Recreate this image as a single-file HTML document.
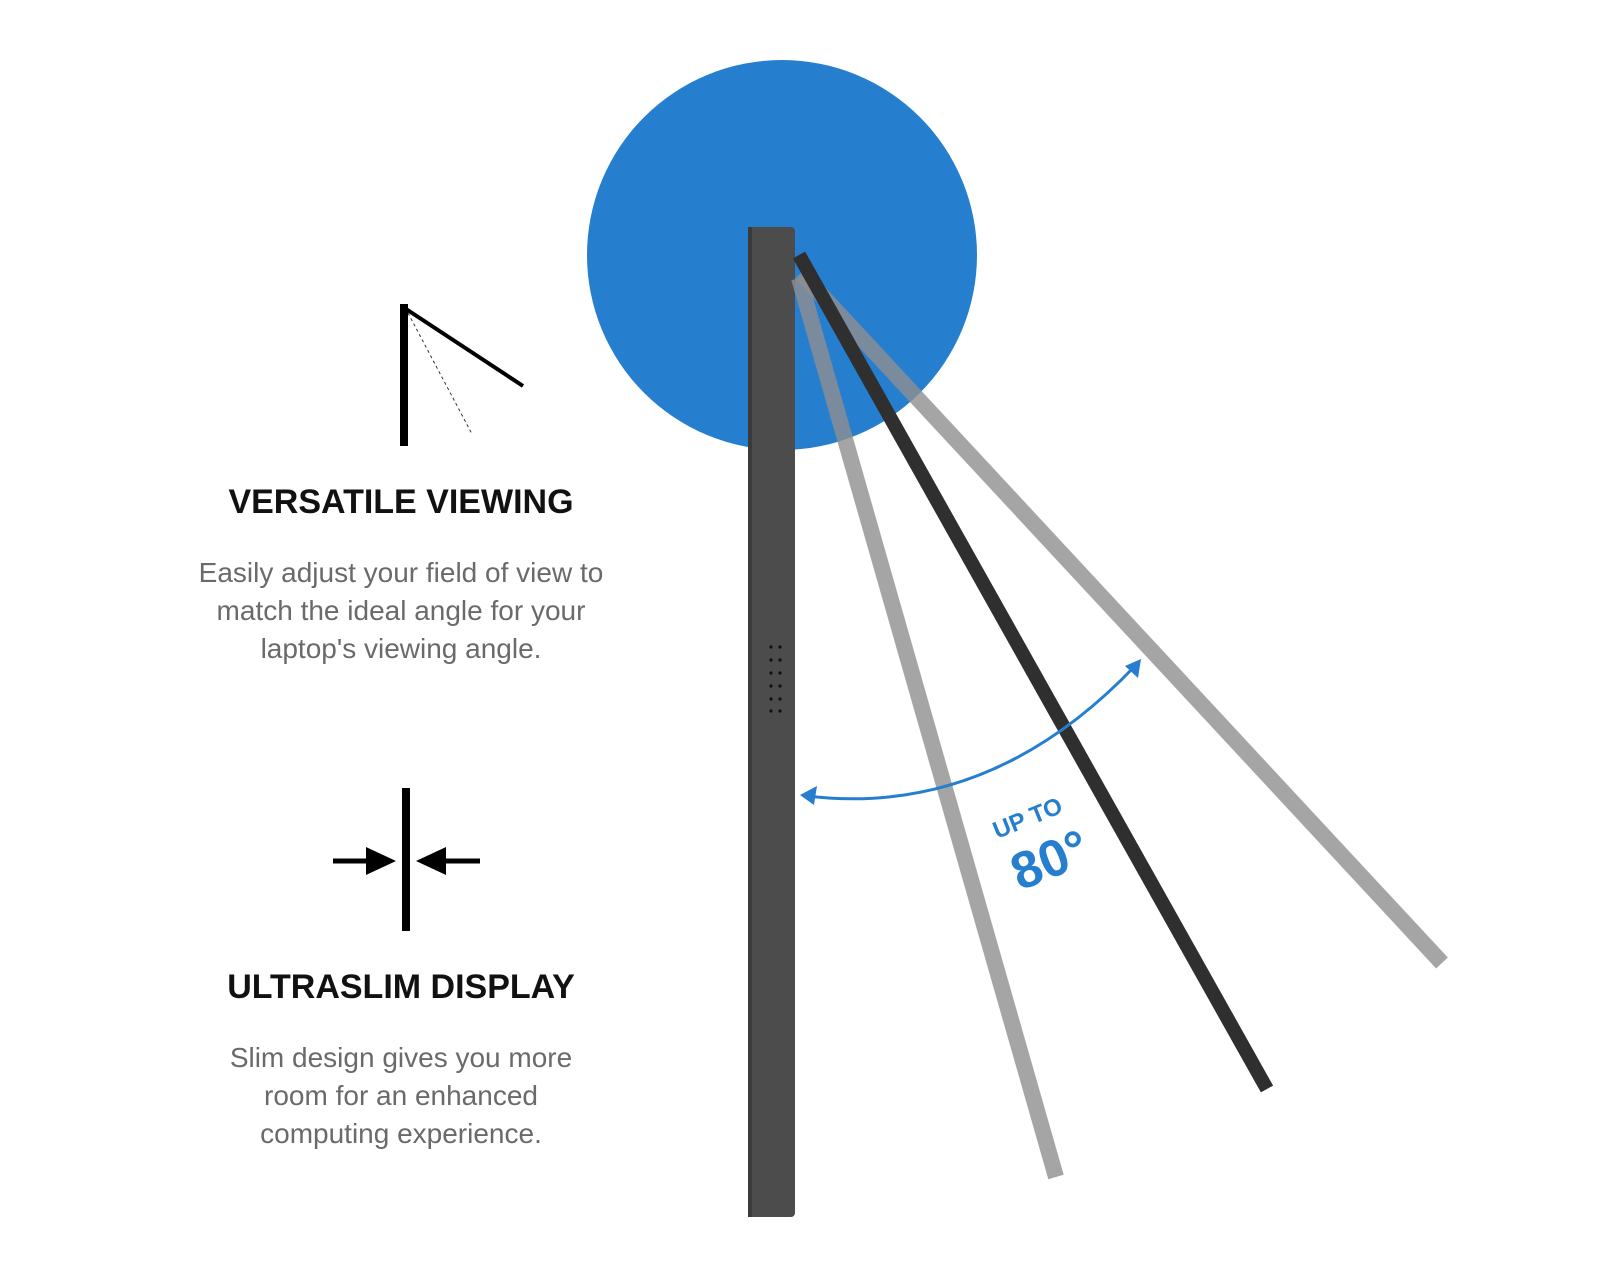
<!DOCTYPE html>
<html><head><style>
body{margin:0;width:1600px;height:1280px;background:#fff;overflow:hidden;font-family:"Liberation Sans",sans-serif;}
</style></head><body>
<svg width="1600" height="1280" viewBox="0 0 1600 1280" xmlns="http://www.w3.org/2000/svg">
<circle cx="782" cy="255" r="195" fill="#267ecf"/>
<!-- monitor body -->
<rect x="748" y="227" width="47" height="990" rx="4" fill="#4c4c4c"/>
<rect x="748" y="227" width="4" height="990" fill="#3a3a3a"/>
<g fill="#111">
<circle cx="771" cy="647" r="1.6"/><circle cx="780" cy="647" r="1.6"/>
<circle cx="771" cy="660" r="1.6"/><circle cx="780" cy="660" r="1.6"/>
<circle cx="771" cy="673" r="1.6"/><circle cx="780" cy="673" r="1.6"/>
<circle cx="771" cy="686" r="1.6"/><circle cx="780" cy="686" r="1.6"/>
<circle cx="771" cy="699" r="1.6"/><circle cx="780" cy="699" r="1.6"/>
<circle cx="771" cy="711" r="1.6"/><circle cx="780" cy="711" r="1.6"/>
</g>
<!-- bars -->
<line x1="801" y1="273" x2="1442" y2="963" stroke="#8e8e8e" stroke-opacity="0.8" stroke-width="16"/>
<line x1="799" y1="278" x2="1056" y2="1177" stroke="#8e8e8e" stroke-opacity="0.8" stroke-width="16"/>
<line x1="799" y1="255" x2="1267" y2="1089" stroke="#2f2f2f" stroke-width="14"/>
<!-- arc -->
<path d="M807 796 Q990 818 1135 666" fill="none" stroke="#267ecf" stroke-width="3"/>
<polygon points="800,795 817,786 814,805" fill="#267ecf"/>
<polygon points="1141,659 1138,678 1125,666" fill="#267ecf"/>
<g fill="#267ecf" font-family="Liberation Sans,sans-serif" font-weight="bold">
<text x="997" y="839" font-size="24" transform="rotate(-22 997 839)">UP TO</text>
<text x="1020" y="891" font-size="52" transform="rotate(-22 1020 891)">80°</text>
</g>
<!-- icon 1 -->
<line x1="404" y1="304" x2="404" y2="446" stroke="#000" stroke-width="8"/>
<line x1="406" y1="309" x2="523" y2="386" stroke="#000" stroke-width="4"/>
<line x1="408" y1="313" x2="472" y2="434" stroke="#333" stroke-width="1" stroke-dasharray="3,3"/>
<!-- icon 2 -->
<line x1="406" y1="788" x2="406" y2="931" stroke="#000" stroke-width="8"/>
<line x1="333" y1="861" x2="371" y2="861" stroke="#000" stroke-width="5"/>
<polygon points="366,847 396,861 366,875" fill="#000"/>
<line x1="441" y1="861" x2="480" y2="861" stroke="#000" stroke-width="5"/>
<polygon points="446,847 416,861 446,875" fill="#000"/>
<g text-anchor="middle" font-family="Liberation Sans,sans-serif">
<text x="401" y="513" font-size="34" font-weight="bold" fill="#111">VERSATILE VIEWING</text>
<g font-size="28" fill="#6a6a6a">
<text x="401" y="582">Easily adjust your field of view to</text>
<text x="401" y="620">match the ideal angle for your</text>
<text x="401" y="658">laptop's viewing angle.</text>
</g>
<text x="401" y="998" font-size="34" font-weight="bold" fill="#111">ULTRASLIM DISPLAY</text>
<g font-size="28" fill="#6a6a6a">
<text x="401" y="1067">Slim design gives you more</text>
<text x="401" y="1105">room for an enhanced</text>
<text x="401" y="1143">computing experience.</text>
</g>
</g>
</svg>
</body></html>
